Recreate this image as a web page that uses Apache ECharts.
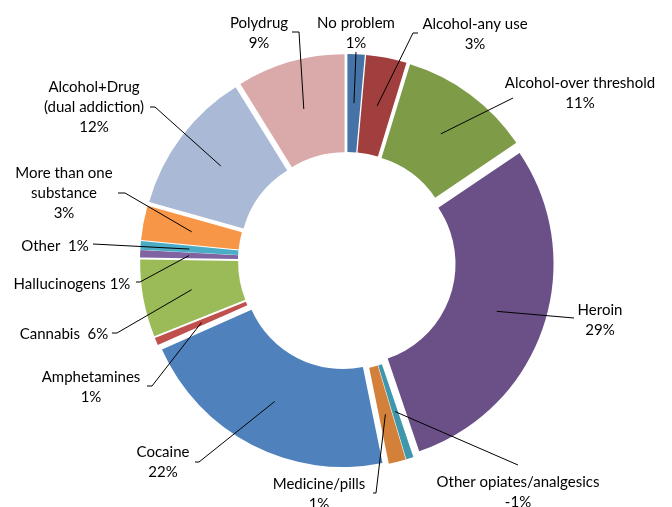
<!DOCTYPE html>
<html><head><meta charset="utf-8">
<script src="https://cdn.jsdelivr.net/npm/echarts@6/dist/echarts.min.js"></script>
<style>html,body{margin:0;padding:0;background:#fff}#c{width:672px;height:507px}</style>
</head><body><div id="c"></div>
<script>
// ---- data ----
const categories = ['No problem','Alcohol-any use','Alcohol-over threshold','Heroin','Other opiates/analgesics','Medicine/pills','Cocaine','Amphetamines','Cannabis','Hallucinogens','Other','More than one substance','Alcohol+Drug (dual addiction)','Polydrug'];
const values = [1.4, 3.3, 10.8, 29.2, 0.6, 1.4, 21.5, 0.6, 6.3, 0.6, 0.7, 2.8, 11.8, 8.8];
const pctLabels = ['1%','3%','11%','29%','-1%','1%','22%','1%','6%','1%','1%','3%','12%','9%'];
const labelNames = ['No problem\n','Alcohol-any use\n','Alcohol-over threshold\n','Heroin\n','Other opiates/analgesics\n','Medicine/pills\n','Cocaine\n','Amphetamines\n','Cannabis  ','Hallucinogens ','Other  ','More than one\nsubstance\n','Alcohol+Drug\n(dual addiction)\n','Polydrug\n'];
const colors = ['#4573a7','#a03f3d','#7e9b48','#6a5086','#3f97ae','#d3803a','#4f81bd','#c0504d','#9bbb59','#8064a2','#4bacc6','#f79646','#a9b9d6','#d9aaa9'];

// ---- layout (label placement, not data) ----
const CX = 347, CY = 261, R0 = 100, R1 = 198, EXPLODE = 9;
const labelCenters = [[356,33],[475,34],[580,93],[600,320],[518,492],[319,494],[163,462],[91,387],[64,334],[72,284],[55,246],[64,193],[94,107],[259,33]];
const lineTails = [
  [[356,52],[356,52]],
  [[413,33],[418,33]],
  [[513,98],[513,98]],
  [[574,318],[574,318]],
  [[518,465],[518,465]],
  [[376,493],[373,493]],
  [[199,462],[195,462]],
  [[152,386],[147,386]],
  [[117,333],[112,333]],
  [[140,282],[136,282]],
  [[93,244],[93,244]],
  [[125,193],[118,193]],
  [[155,107],[150,107]],
  [[299,32],[292,32]]
];

const total = values.reduce((a,b)=>a+b,0);
function startFrac(i){ let s=0; for(let k=0;k<i;k++) s+=values[k]; return s/total; }
function midAngle(i){ return (startFrac(i) + values[i]/total/2) * Math.PI * 2; } // clockwise from 12 o'clock
function lineStart(i){
  const a = midAngle(i), r = (R0+R1)/2 + EXPLODE;
  return [CX + r*Math.sin(a), CY - r*Math.cos(a)];
}

// exploded slices: one pie series per slice, shifted along its bisector
const sliceSeries = categories.map((c,i)=>{
  const a = midAngle(i);
  return {
    type:'pie', z:1,
    center:[CX + EXPLODE*Math.sin(a), CY - EXPLODE*Math.cos(a)],
    radius:[R0,R1],
    startAngle: 90 - startFrac(i)*360,
    clockwise:true,
    emphasis:{disabled:true},
    label:{show:false}, labelLine:{show:false},
    itemStyle:{borderWidth:0},
    data:[
      {name:c, value:values[i], itemStyle:{color:colors[i]}},
      {name:'', value:total-values[i], itemStyle:{color:'rgba(0,0,0,0)'}, silent:true}
    ]
  };
});

// labels + leader lines on top (transparent sectors)
const labelSeries = {
  type:'pie', z:5,
  center:[CX,CY], radius:[R0,R1], startAngle:90, clockwise:true,
  avoidLabelOverlap:false, silent:true,
  emphasis:{disabled:true},
  itemStyle:{color:'rgba(0,0,0,0)', borderWidth:0},
  data: categories.map((c,i)=>({name:c, value:values[i]})),
  label:{
    show:true, position:'outside',
    fontFamily:'Lato', fontSize:15, color:'#000', lineHeight:20, align:'center',
    formatter:p=>labelNames[p.dataIndex]+pctLabels[p.dataIndex]
  },
  labelLine:{show:true, showAbove:true, lineStyle:{color:'#000', width:1}, smooth:false},
  labelLayout:function(params){
    const i = params.dataIndex, t = lineTails[i];
    return {
      x: labelCenters[i][0], y: labelCenters[i][1],
      align:'center', verticalAlign:'middle',
      labelLinePoints:[lineStart(i), t[0], t[1]]
    };
  }
};

const chart = echarts.init(document.getElementById('c'), null, {renderer:'canvas'});
chart.setOption({animation:false, series: sliceSeries.concat([labelSeries])});
</script></body></html>
